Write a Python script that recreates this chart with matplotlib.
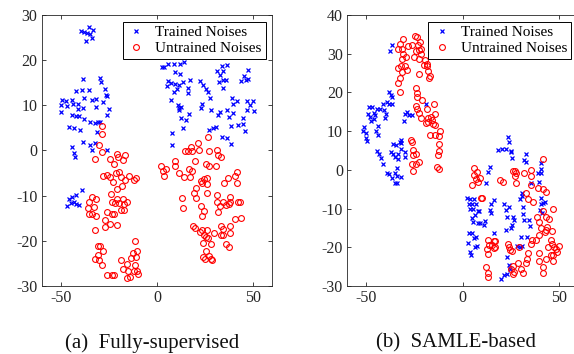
import matplotlib
matplotlib.use("Agg")
import matplotlib.pyplot as plt

# ---------------- data: (a) Fully-supervised ----------------
a_trained_x = [-39.7, -37.9, -36.6, -35.3, -34.8, -33.3, -33.6, -37.1,
               -38.3, -29.7, -29.0, -27.1, -39.1, -35.5, -42.4, -26.6, -25.9, -37.8, -33.6, -31.6,
               -27.9, -44.1, -49.3, -47.4, -50.0, -46.6, -43.9, -41.0, -41.0, -38.6, -31.9, -25.0,
               -50.2, -44.3, -42.2, -40.5, -25.9, -37.8, -35.0, -32.2, -30.9, -29.8, -45.7, -43.1,
               -40.3, -31.0, -38.3, -32.2, -34.7, -44.5, -33.6, -25.9, -43.4, -42.8,
               -39.3, -42.2, -44.0, -45.7, -43.4, -42.2, -44.8, -46.6, -40.5,
               2.6, 3.8, 5.5, 8.6, 12.1, 13.8, 5.2, 5.9, 7.2, 9.5, 11.7, 13.4, 17.2, 16.0, 16.0,
               8.8, 10.3, 9.5, 11.6, 7.4, 10.9, 11.6, 12.6, 11.2, 16.4, 12.6, 15.0, 13.6, 7.9, 7.8,
               22.4, 23.8, 25.5, 26.7, 27.6, 23.3, 23.0, 27.9, 31.0, 33.6, 32.8, 34.3, 36.4, 32.4,
               34.1, 35.9, 34.5, 32.8, 31.6, 36.2, 37.6, 39.7, 38.8, 41.4, 39.7, 43.4, 45.3, 47.4,
               47.4, 46.2, 46.9, 50.0, 48.3, 50.3, 46.6, 44.5, 44.5, 45.7, 41.9, 38.6, 27.2, 29.3,
               30.7, 33.6, 36.2, 38.4]
a_trained_y = [26.5, 26.1, 26.0, 27.3, 25.7, 26.7, 24.8, 24.2,
               15.9, 16.1, 15.1, 13.6, 13.3, 13.3, 13.1, 12.2, 12.1, 11.7, 11.2, 11.4,
               10.8, 11.1, 11.1, 10.9, 10.0, 9.9, 10.3, 10.3, 9.1, 9.4, 9.7, 9.2,
               8.6, 7.8, 7.6, 7.7, 7.8, 6.9, 6.3, 6.0, 6.3, 6.3, 5.2, 5.0,
               4.6, 4.0, 1.9, 1.7, 1.2, 0.8, 0.1, 0.1, -0.5, -1.5,
               -8.8, -9.9, -10.2, -10.8, -11.5, -11.9, -11.6, -12.2, -12.1,
               18.5, 18.5, 19.2, 19.2, 19.2, 19.5, 14.2, 15.3, 15.0, 17.4, 17.0, 15.2, 15.6, 13.9, 12.7,
               12.9, 13.6, 14.7, 14.5, 11.2, 10.0, 9.5, 9.7, 8.9, 8.1, 7.1, 6.7, 4.9, 3.8, 1.2,
               15.3, 14.5, 13.7, 12.9, 11.6, 10.2, 9.3, 9.0, 17.5, 18.7, 16.8, 17.5, 18.9, 15.2,
               15.6, 15.6, 13.8, 8.6, 7.8, 8.9, 7.4, 8.2, 11.5, 11.0, 10.2, 15.4, 16.4, 17.8,
               15.8, 15.5, 11.0, 10.9, 10.0, 8.8, 8.9, 7.2, 5.8, 4.3, 5.6, 5.4, 4.5, 4.9,
               5.2, 3.0, 2.7, 1.5]
a_untrained_x = [-28.4, -28.4, -30.3, -28.6, -32.4, -21.0, -24.5, -20.3, -16.9, -17.9, -22.2,
                 -28.1, -26.2, -24.5, -21.6, -19.8, -22.8, -18.6, -14.7, -16.9, -12.1, -11.0,
                 -20.7, -18.1, -24.1, -20.7, -17.6, -23.5, -22.1, -19.8, -17.2, -15.5, -18.6,
                 -17.1, -22.4, -23.5, -26.2, -24.5, -27.2, -27.2, -20.7, -33.8, -31.9, -35.5,
                 -35.9, -32.8, -35.5, -34.0, -31.6, -32.2, -30.5, -29.8, -27.9, -30.5, -32.1,
                 -30.2, -28.4, -25.9, -23.3, -22.4, -19.0, -17.6, -15.5, -15.0, -15.5, -14.1,
                 -13.8, -12.6, -11.6, -10.9, -10.7, -11.6, -10.7, -9.7, -11.9,
                 2.1, 2.9, 3.6, 4.7, 9.1, 9.5, 11.4, 13.8, 12.9, 13.3, 14.3, 16.0, 17.6, 17.9,
                 16.4, 18.3, 17.2, 19.7, 21.2, 21.6, 19.3, 20.3, 20.0, 22.6, 24.3, 23.6, 25.7,
                 25.7, 26.2, 26.7, 25.3, 27.1, 27.1, 22.8, 23.4, 24.5, 18.6, 19.5, 23.3, 26.0,
                 24.5, 22.4, 25.5, 26.7, 28.1, 23.8, 25.3, 24.1, 24.8, 28.1, 28.6, 27.2, 29.8,
                 30.7, 31.4, 31.6, 33.4, 34.8, 36.9, 40.5, 41.7, 41.7, 31.4, 31.4, 31.7, 32.8,
                 34.5, 36.0, 37.2, 38.1, 37.8, 42.2, 43.1, 33.3, 34.5, 34.1, 38.1, 38.1, 40.7,
                 43.6, 35.9, 37.2, 33.3]
a_untrained_y = [5.5, 3.6, 1.1, -0.4, -1.9, -0.7, -1.8, -1.5, -0.9, -2.2, -3.1,
                 -5.7, -5.4, -5.8, -4.9, -4.7, -7.0, -5.8, -5.7, -6.6, -6.6, -6.2,
                 -8.5, -7.8, -9.6, -10.7, -10.8, -11.3, -11.7, -11.6, -11.9, -11.4, -13.2,
                 -13.2, -14.1, -14.0, -13.6, -16.3, -15.4, -16.9, -16.4, -10.3, -10.7, -11.4,
                 -12.7, -12.6, -14.0, -14.0, -14.4, -17.6, -21.1, -21.1, -22.2, -23.1, -24.1,
                 -24.3, -25.3, -27.6, -27.6, -27.6, -24.2, -26.2, -25.2, -26.6, -28.3, -27.9,
                 -23.9, -22.8, -25.3, -23.6, -22.2, -20.0, -26.6, -27.4, -26.6,
                 -3.4, -4.5, -5.7, -4.0, -2.4, -3.4, -5.0, -5.8, -10.6, -12.7, -0.2, -0.1, 0.8, -0.2,
                 -4.0, -4.6, -5.8, -2.3, 1.7, 0.0, -9.5, -10.5, -8.4, -6.8, -6.3, -7.1, -7.4,
                 -9.5, -6.1, 3.0, -3.1, -3.4, -0.1, -12.4, -14.5, -13.5, -16.7, -17.2, -17.6, -17.5,
                 -18.6, -18.1, -19.1, -19.4, -20.7, -20.4, -22.2, -23.5, -24.1, -24.0, -24.3, -23.3, -18.3,
                 -3.4, 0.0, -1.0, -1.5, -7.1, -6.0, -5.7, -4.7, -7.1, -9.9, -11.5, -13.7, -12.4,
                 -11.3, -12.1, -11.9, -10.2, -11.3, -11.3, -11.3, -16.7, -17.4, -18.6, -16.7, -18.3, -15.2,
                 -15.0, -20.6, -21.3, -18.7]

# ---------------- data: (b) SAMLE-based ----------------
b_trained_x = [-36.9, -37.7, -51.3, -52.0, -50.3, -50.3, -49.9, -49.4, -48.9, -47.3, -48.3,
               -47.7, -46.3, -45.9, -44.7, -43.0, -45.6, -44.2, -45.0, -44.2, -41.2, -40.7,
               -39.8, -39.1, -38.3, -37.4, -36.9, -38.3, -36.9, -40.3, -29.9, -27.8, -29.0,
               -26.1, -30.3, -19.0, -44.3, -43.3, -42.6, -41.2, -39.5, -38.3, -36.5, -35.0,
               -33.9, -34.3, -32.2, -35.0, -34.3, -36.0, -34.8, -37.4, -36.0, -33.4, -35.2,
               -33.8, -32.5, -32.2, -32.0, -29.9, -29.9, -32.2,
               2.3, 4.0, 6.1, 3.3, 4.9, 7.1, 4.0, 5.4, 7.8, 8.7, 6.3, 4.9, 5.4, 8.0, 9.0, 11.5,
               11.0, 3.5, 4.9, 5.7, 6.8, 6.6, 7.5, 2.8, 4.0, 4.2, 12.3, 13.0, 14.4, 14.8, 14.4,
               14.9, 16.5, 16.5, 18.3, 20.7, 22.3, 23.5, 24.0, 24.9, 25.7, 25.4, 21.4, 22.8,
               23.1, 24.3, 26.3, 26.6, 25.7, 24.9, 22.6, 29.7, 30.8, 30.8, 31.3, 31.5, 31.8,
               34.4, 34.8, 31.8, 32.7, 32.7, 35.3, 33.6, 30.6, 28.3, 29.6, 30.8, 23.1, 24.0,
               24.5, 23.1, 21.4, 20.2, 39.1, 40.9, 40.9, 40.5, 40.9, 41.9, 42.8, 40.9, 40.2,
               41.4, 39.5]
b_trained_y = [32.3, 30.6, 11.1, 10.0, 9.6, 8.3, 7.4, 14.3, 16.1, 16.3, 13.7,
               12.7, 13.1, 14.7, 15.6, 15.8, 14.1, 11.3, 10.1, 9.1, 17.1, 15.4,
               14.3, 17.6, 20.1, 19.2, 18.8, 16.9, 17.0, 13.4, 14.3, 14.1, 14.8,
               14.1, 12.6, 16.9, 4.8, 4.2, 3.1, 1.6, -0.9, -1.1, -2.0, -3.5,
               -3.5, -1.5, -1.8, -0.9, 0.4, 6.6, 6.4, 4.5, 4.2, 4.0, 3.2,
               2.9, 7.2, 7.8, 5.3, 4.7, 3.2, 6.8,
               -7.4, -7.5, -7.6, -8.7, -8.7, -8.8, -10.0, -10.2, -10.6, -10.6, -11.7, -12.5, -13.4, -13.7, -13.7, -13.1,
               -14.3, -16.2, -16.4, -17.5, -17.3, -19.8, -19.7, -18.8, -21.1, -22.0, -3.3, -0.5, 0.8, -8.7, -10.4,
               -11.2, -7.8, -16.4, 5.1, 5.3, 5.3, 8.4, 7.2, 4.8, 3.1, 4.6, -8.7, -10.4,
               -12.1, -9.5, -12.1, -13.0, -14.3, -15.1, -15.5, -7.5, -5.9, -6.7, -9.5, -11.5, -13.0,
               -13.0, -14.5, 2.5, 2.1, 4.2, -3.3, -17.3, -17.3, -19.7, -19.8, -19.7, -22.4, -24.6,
               -25.5, -26.9, -27.2, -28.3, -0.9, -0.9, 0.1, 1.8, -8.7, -8.5, -8.2, -7.4, -10.4,
               -11.2, -3.1]
b_untrained_x = [-30.8, -32.5, -28.3, -33.4, -31.7, -30.8, -29.4, -31.7, -33.4, -32.0, -29.9,
                 -29.0, -31.7, -32.5, -33.4, -32.5, -25.0, -23.8, -26.1, -23.3, -22.1, -21.7,
                 -24.3, -22.9, -25.2, -22.9, -21.6, -19.8, -18.6, -18.3, -20.0, -18.1, -22.9,
                 -17.7, -16.9, -24.2, -23.5, -23.8, -21.2, -24.2, -23.5, -22.9, -21.6, -18.6,
                 -15.1, -14.3, -16.3, -18.1, -18.1, -19.0, -16.0, -15.5, -14.3, -16.9, -14.3,
                 -12.5, -12.0, -12.5, -12.2, -12.7, -13.4, -12.2, -27.0, -26.3, -26.0, -26.0,
                 -24.2, -26.3, -25.6, -24.5, -22.6,
                 5.7, 6.1, 7.5, 6.8, 9.2, 4.9, 8.2, 10.1, 19.3, 21.0, 26.3, 27.1, 27.1, 28.0,
                 27.5, 31.8, 35.3, 35.8, 35.3, 32.7, 33.9, 36.7, 39.1, 41.7, 41.9, 43.1, 38.8,
                 39.7, 41.7, 43.1, 44.9, 44.0, 43.1, 40.5, 42.6, 46.3, 46.8, 39.7, 38.0, 35.9,
                 35.3, 45.7, 46.6, 44.3, 47.7, 50.1, 48.7, 49.2, 45.7, 46.9, 43.1, 39.7, 39.5,
                 41.7, 41.7, 47.0, 13.2, 13.6, 12.8, 13.2, 15.3, 16.2, 16.2, 17.0, 16.7, 23.5,
                 24.1, 24.5, 25.7, 29.2, 26.3, 26.6, 26.3, 25.4, 28.7, 30.6, 31.3, 33.9, 33.6,
                 32.7, 12.0, 13.0, 13.2, 9.7]
b_untrained_y = [33.7, 32.6, 32.0, 31.3, 31.3, 29.9, 29.2, 28.7, 26.3, 26.8, 26.8,
                 25.7, 25.3, 23.6, 22.5, 20.0, 34.5, 34.3, 32.2, 32.2, 32.9, 31.3,
                 30.7, 30.9, 29.2, 28.7, 29.9, 28.3, 27.4, 26.8, 27.0, 25.6, 24.7,
                 23.6, 24.2, 21.0, 19.9, 18.8, 18.0, 16.4, 15.6, 14.7, 13.3, 15.7,
                 16.9, 14.4, 13.7, 13.3, 12.4, 12.1, 12.8, 11.7, 11.5, 9.1, 9.1,
                 8.7, 10.0, 6.6, 4.9, 3.8, 0.8, 0.2, 7.8, 7.3, 5.1, 3.8,
                 4.2, 1.4, -0.3, 1.5, 1.9,
                 0.4, -1.4, -0.5, -2.4, -2.2, -3.9, -3.2, -7.2, -2.6, -3.2, -0.2, -0.4, -1.6, -0.7,
                 -3.3, -0.9, -0.1, -1.6, -3.9, -6.1, -7.5, -8.2, -4.6, 2.9, -4.9, -5.7, -12.1,
                 -13.4, -10.6, -12.1, -12.8, -14.7, -15.5, -15.1, -16.1, -15.7, -10.0, -16.8, -18.0, -18.1,
                 -19.2, -18.1, -19.2, -19.8, -20.0, -19.7, -20.5, -21.3, -22.0, -22.0, -22.9, -21.6, -23.5,
                 -25.0, -26.6, -23.5, -18.0, -19.4, -20.5, -21.8, -19.4, -18.5, -20.2, -19.8, -18.5, -19.2,
                 -19.8, -20.7, -20.9, -20.0, -24.7, -26.3, -27.0, -25.7, -24.0, -25.7, -26.6, -21.6, -22.9,
                 -24.1, -25.2, -26.7, -27.6, -7.2]

x_ticks = [-50, 0, 50]
a_y_ticks = [-30, -20, -10, 0, 10, 20, 30]
b_y_ticks = [-30, -20, -10, 0, 10, 20, 30, 40]
series_labels = ["Trained Noises", "Untrained Noises"]
captions = ["(a)  Fully-supervised", "(b)  SAMLE-based"]

plt.rcParams['font.family'] = ['Liberation Serif', 'DejaVu Serif']

fig = plt.figure(figsize=(5.74, 3.54), dpi=100)
ax_a = fig.add_axes([0.0727, 0.192, 0.402, 0.766])
ax_b = fig.add_axes([0.605, 0.192, 0.402, 0.766])

spine_col = '#262626'
panels = [
    (ax_a, a_trained_x, a_trained_y, a_untrained_x, a_untrained_y, (-30, 30), a_y_ticks),
    (ax_b, b_trained_x, b_trained_y, b_untrained_x, b_untrained_y, (-30, 40), b_y_ticks),
]
for ax, tx, ty, ux, uy, ylim, yt in panels:
    ax.plot(tx, ty, linestyle='none', marker='x', color='#0000ff', markersize=3.0,
            markeredgewidth=0.9, label=series_labels[0])
    ax.plot(ux, uy, linestyle='none', marker='o', markerfacecolor='none',
            markeredgecolor='#ff0000', markersize=4.2, markeredgewidth=0.8,
            label=series_labels[1])
    ax.set_xlim(-60, 60)
    ax.set_ylim(*ylim)
    ax.set_xticks(x_ticks)
    ax.set_yticks(yt)
    ax.set_xticklabels([str(v) for v in x_ticks])
    ax.set_yticklabels([str(v) for v in yt])
    ax.tick_params(direction='in', top=True, right=True, length=3, width=0.6,
                   labelsize=11.5, colors=spine_col, labelcolor=spine_col, pad=3)
    for s in ax.spines.values():
        s.set_linewidth(0.6)
        s.set_color(spine_col)
    leg = ax.legend(loc='upper right', fontsize=11, numpoints=1, fancybox=False,
                    edgecolor='black', framealpha=1, borderaxespad=0.45,
                    handlelength=1.3, handletextpad=0.6, borderpad=0.25,
                    labelspacing=0.15)
    leg.get_frame().set_linewidth(0.7)

fig.text(0.2657, 0.017, captions[0], ha='center', va='baseline', fontsize=15, color='#111111')
fig.text(0.7944, 0.017, captions[1], ha='center', va='baseline', fontsize=15, color='#111111')

fig.savefig('out.png', dpi=100)
